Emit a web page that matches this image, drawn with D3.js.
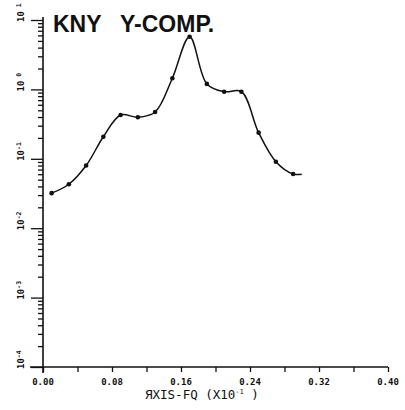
<!DOCTYPE html>
<html>
<head>
<meta charset="utf-8">
<script src="https://cdn.jsdelivr.net/npm/d3@7"></script>
<style>
  body { margin: 0; background: #fff; }
  svg { display: block; }
  .tick-label { font-family: "DejaVu Sans Mono", monospace; font-weight: bold; font-size: 9px; fill: #111; }
</style>
</head>
<body>
<svg id="chart" width="405" height="410"></svg>
<script>
// data
const freq = [0.01, 0.03, 0.05, 0.07, 0.09, 0.11, 0.13, 0.15, 0.17, 0.19, 0.21, 0.23, 0.25, 0.27, 0.29]
const amp = [0.032, 0.043, 0.080, 0.208, 0.428, 0.396, 0.472, 1.45, 5.75, 1.20, 0.927, 0.927, 0.238, 0.0908, 0.0604]
// the line runs a bit past the last marker
const tailFreq = [0.30]
const tailAmp = [0.060]

const xTicks = [0, 0.04, 0.08, 0.12, 0.16, 0.20, 0.24, 0.28, 0.32, 0.36, 0.40]
const xLabels = [0, 0.08, 0.16, 0.24, 0.32, 0.40]
const decades = [-4, -3, -2, -1, 0, 1]

const svg = d3.select('#chart')
const ink = '#111'

const x = d3.scaleLinear().domain([0, 0.40]).range([43, 388])
const y = d3.scaleLog().domain([1e-4, 10]).range([367, 20])

// x axis
const xAxis = d3.axisBottom(x)
    .tickValues(xTicks)
    .tickSize(5)
    .tickSizeOuter(0)
    .tickFormat('')
const gx = svg.append('g')
    .attr('transform', 'translate(0,367)')
    .call(xAxis)
gx.select('.domain').remove()
gx.selectAll('line').attr('stroke', ink).attr('stroke-width', 1.3)

svg.append('line')
    .attr('x1', 30).attr('x2', x(0.40))
    .attr('y1', 367).attr('y2', 367)
    .attr('stroke', ink).attr('stroke-width', 1.6)

svg.selectAll('.xlab')
    .data(xLabels)
    .join('text')
    .attr('class', 'tick-label')
    .attr('x', d => x(d))
    .attr('y', 385)
    .attr('text-anchor', 'middle')
    .attr('font-size', 10)
    .text(d3.format('.2f'))

svg.append('text')
    .attr('x', 145)
    .attr('y', 399)
    .attr('font-family', '"DejaVu Sans Mono", monospace')
    .attr('font-size', 12.5)
    .attr('fill', ink)
    .text('ЯXIS-FQ (X10')
    .append('tspan')
    .attr('dy', -5)
    .attr('font-size', 7)
    .text('-1')
    .append('tspan')
    .attr('dy', 5)
    .attr('font-size', 12.5)
    .text(' )')

// y axis, majors and minors
const yTicks = []
decades.forEach(p => {
    yTicks.push({ v: Math.pow(10, p), major: true })
    if (p < 1) for (let m = 2; m <= 9; m++) yTicks.push({ v: m * Math.pow(10, p), major: false })
})

const yAxis = d3.axisLeft(y)
    .tickValues(yTicks.map(d => d.v))
    .tickSize(5)
    .tickSizeOuter(0)
    .tickFormat('')
const gy = svg.append('g')
    .attr('transform', 'translate(43,0)')
    .call(yAxis)
gy.select('.domain').remove()
gy.selectAll('.tick line')
    .attr('x2', (d, i) => yTicks[i].major ? -12 : -5)
    .attr('stroke', ink)
    .attr('stroke-width', 1.3)

svg.append('line')
    .attr('x1', 43).attr('x2', 43)
    .attr('y1', 17).attr('y2', 373)
    .attr('stroke', ink).attr('stroke-width', 1.6)

const ylab = svg.selectAll('.ylab')
    .data(decades)
    .join('text')
    .attr('class', 'tick-label')
    .attr('transform', d => `translate(24,${y(Math.pow(10, d)) + 2}) rotate(-90)`)
    .attr('text-anchor', 'start')
    .text('10')
ylab.append('tspan')
    .attr('dy', -3)
    .attr('font-size', 6.5)
    .text(d => d === 0 || d === 1 ? ' ' + d : d)

// title
svg.append('text')
    .attr('x', 53).attr('y', 32)
    .attr('font-family', '"Liberation Sans", Arial, sans-serif')
    .attr('font-weight', 'bold')
    .attr('font-size', 23)
    .attr('fill', ink)
    .text('KNY')
svg.append('text')
    .attr('x', 120).attr('y', 32)
    .attr('font-family', '"Liberation Sans", Arial, sans-serif')
    .attr('font-weight', 'bold')
    .attr('font-size', 23)
    .attr('fill', ink)
    .text('Y-COMP.')

// curve
const pts = freq.map((f, i) => [f, amp[i]])
const linePts = pts.concat(tailFreq.map((f, i) => [f, tailAmp[i]]))

const line = d3.line()
    .x(d => x(d[0]))
    .y(d => y(d[1]))
    .curve(d3.curveCatmullRom.alpha(0.5))

svg.append('path')
    .datum(linePts)
    .attr('d', line)
    .attr('fill', 'none')
    .attr('stroke', ink)
    .attr('stroke-width', 1.5)

svg.selectAll('.dot')
    .data(pts)
    .join('circle')
    .attr('cx', d => x(d[0]))
    .attr('cy', d => y(d[1]))
    .attr('r', 2.3)
    .attr('fill', ink)
</script>
</body>
</html>
